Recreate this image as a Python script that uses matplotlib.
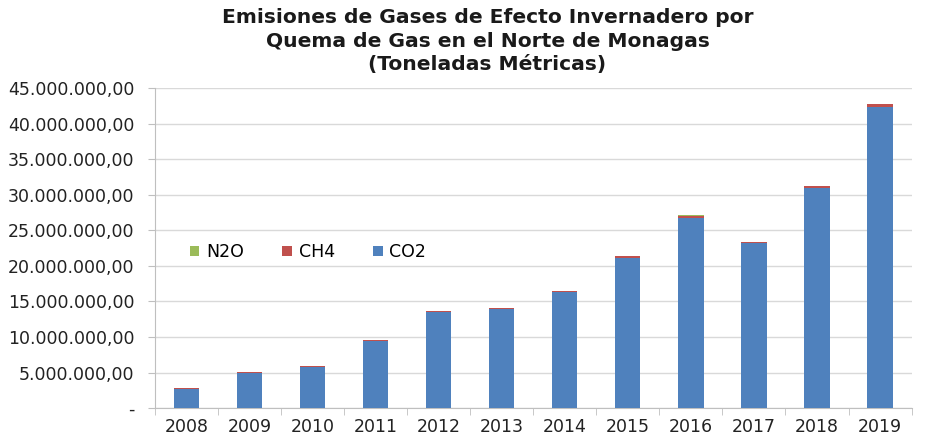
import matplotlib
matplotlib.use("Agg")
import matplotlib.pyplot as plt
import numpy as np
from matplotlib.ticker import FuncFormatter, MultipleLocator, FixedLocator

years = ["2008", "2009", "2010", "2011", "2012", "2013",
         "2014", "2015", "2016", "2017", "2018", "2019"]
co2 = [2.75e6, 4.95e6, 5.8e6, 9.45e6, 13.5e6, 13.9e6,
       16.3e6, 21.15e6, 26.8e6, 23.15e6, 30.9e6, 42.4e6]
ch4 = [0.04e6, 0.06e6, 0.07e6, 0.11e6, 0.15e6, 0.16e6,
       0.18e6, 0.22e6, 0.28e6, 0.24e6, 0.32e6, 0.35e6]
n2o = [0.005e6, 0.008e6, 0.01e6, 0.015e6, 0.02e6, 0.02e6,
       0.02e6, 0.03e6, 0.03e6, 0.03e6, 0.04e6, 0.05e6]

C_CO2 = "#4F81BD"
C_CH4 = "#C0504D"
C_N2O = "#9BBB59"
GRID  = "#D9D9D9"

plt.rcParams["font.family"] = ["DejaVu Sans"]

fig = plt.figure(figsize=(9.34, 4.36), dpi=100)
ax = fig.add_axes([0.166, 0.064, 0.81, 0.734])

x = np.arange(len(years))
co2 = np.array(co2)
ch4 = np.array(ch4)
n2o = np.array(n2o)
w = 0.4
ax.bar(x, co2, w, color=C_CO2, label="CO2", zorder=3)
ax.bar(x, ch4, w, bottom=co2, color=C_CH4, label="CH4", zorder=3)
ax.bar(x, n2o, w, bottom=co2 + ch4, color=C_N2O, label="N2O", zorder=3)

ax.set_xlim(-0.5, len(years) - 0.5)
ax.set_ylim(0, 45e6)
ax.yaxis.set_major_locator(MultipleLocator(5e6))


def fmt(v, pos):
    if v == 0:
        return "-"
    s = f"{v:,.2f}"
    return s.replace(",", "X").replace(".", ",").replace("X", ".")


ax.yaxis.set_major_formatter(FuncFormatter(fmt))
ax.grid(axis="y", color=GRID, linewidth=1, zorder=0)

ax.set_xticks(x)
ax.set_xticklabels(years)
ax.xaxis.set_minor_locator(FixedLocator(np.arange(-0.5, len(years), 1)))
ax.tick_params(axis="x", which="major", length=0, pad=7, labelsize=12.5, colors="#222222")
ax.tick_params(axis="x", which="minor", length=5, color="#BFBFBF")
ax.tick_params(axis="y", length=5, color="#BFBFBF", labelsize=12.5, labelcolor="#222222", pad=10)

for s in ["top", "right"]:
    ax.spines[s].set_visible(False)
for s in ["left", "bottom"]:
    ax.spines[s].set_color("#BFBFBF")

handles, labels = ax.get_legend_handles_labels()
order = [2, 1, 0]
ax.legend([handles[i] for i in order], [labels[i] for i in order],
          loc="upper left", bbox_to_anchor=(0.025, 0.565), ncol=3, frameon=False,
          fontsize=12.5, handlelength=0.55, handleheight=0.55, columnspacing=2.2,
          handletextpad=0.4)

fig.text(0.522, 0.982,
         "Emisiones de Gases de Efecto Invernadero por\nQuema de Gas en el Norte de Monagas\n(Toneladas Métricas)",
         ha="center", va="top", fontsize=14.6, fontweight="bold", linespacing=1.32,
         color="#1a1a1a")

fig.savefig("out.png", dpi=100)
